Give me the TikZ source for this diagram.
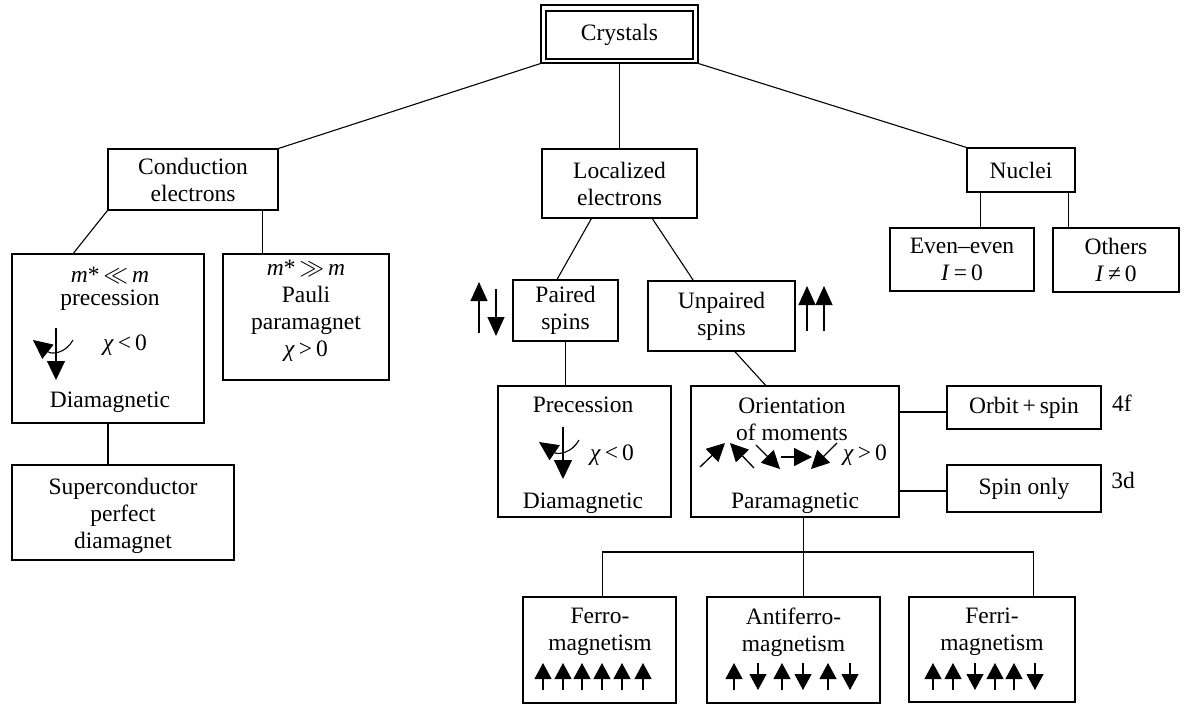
\documentclass[tikz,border=0pt]{standalone}
\usepackage{fontspec}
\setmainfont{Liberation Serif}
\usetikzlibrary{arrows.meta,calc}
\begin{document}
\begin{tikzpicture}[x=1pt,y=-1pt,
  font=\fontsize{23.5}{27}\selectfont,
  box/.style={draw,line width=1.1pt,inner sep=0pt,align=center},
  txt/.style={inner sep=0pt,align=center},
  link/.style={line width=1.1pt},
  spinarrow/.style={line width=1.1pt,-{Triangle[length=16pt,width=17pt]}},
  bigarrow/.style={line width=1.1pt,-{Triangle[length=19pt,width=17pt]}},
  tilt/.style={line width=1.3pt,-{Triangle[length=18pt,width=18pt]}},
  glyph/.style={line width=1.1pt,-{Triangle[length=19pt,width=18pt]}},
]
\useasboundingbox (0,0) rectangle (1188,705);
% boxes
\node[box,minimum width=157pt,minimum height=58pt] (crys) at (619.5,34) {};
\node[box,minimum width=147pt,minimum height=48pt] (crysin) at (619.5,35) {Crystals};
\node[box,minimum width=170pt,minimum height=61pt] (cond) at (193,179.5) {Conduction\\electrons};
\node[box,minimum width=155pt,minimum height=69pt] (loc) at (619.5,183.5) {Localized\\electrons};
\node[box,minimum width=108pt,minimum height=44pt] (nuc) at (1021,170) {Nuclei};
\node[box,minimum width=144pt,minimum height=63pt] (even) at (962,259.5) {Even–even\\\textit{I}\,=\,0};
\node[box,minimum width=126pt,minimum height=64pt] (others) at (1116,260) {Others\\\textit{I}\,≠\,0};
\node[box,minimum width=192pt,minimum height=169pt] (mstar) at (108,338.5) {};
\node[box,minimum width=166pt,minimum height=126pt] (pauli) at (306,317) {};
\node[box,minimum width=222pt,minimum height=95pt] (super) at (123,512.5) {};
\node[box,minimum width=105pt,minimum height=61pt] (paired) at (565.5,310.5) {Paired\\spins};
\node[box,minimum width=147pt,minimum height=70pt] (unpaired) at (721.5,316) {Unpaired\\spins};
\node[box,minimum width=173pt,minimum height=131pt] (prec) at (584.5,451.5) {};
\node[box,minimum width=208pt,minimum height=131pt] (orient) at (795,451.5) {};
\node[box,minimum width=154pt,minimum height=43pt] (orbit) at (1024,407.5) {Orbit\,+\,spin};
\node[box,minimum width=154pt,minimum height=47pt] (spinonly) at (1024,488.5) {Spin only};
\node[box,minimum width=153pt,minimum height=106pt] (ferro) at (599.5,650) {};
\node[box,minimum width=173pt,minimum height=106pt] (anti) at (793.5,650) {};
\node[box,minimum width=166pt,minimum height=105pt] (ferri) at (992,649.5) {};
% texts
\node[txt] (t1) at (110,275) {\textit{m}*\,$\ll$\,\textit{m}};
\node[txt] (t2) at (110,300) {precession};
\node[txt] (t3) at (125,345) {\textit{χ}\,<\,0};
\node[txt] (t4) at (110,402) {Diamagnetic};
\node[txt] (t5) at (306,311) {\textit{m}*\,$\gg$\,\textit{m}\\Pauli\\paramagnet\\\textit{χ}\,>\,0};
\node[txt] (t6) at (123,515.5) {Superconductor\\perfect\\diamagnet};
\node[txt] (t7) at (583,405) {Precession};
\node[txt] (t8) at (612,455) {\textit{χ}\,<\,0};
\node[txt] (t9) at (583,503) {Diamagnetic};
\node[txt] (t10) at (792,419) {Orientation\\of moments};
\node[txt] (t11) at (865,455) {\textit{χ}\,>\,0};
\node[txt] (t12) at (795,503) {Paramagnetic};
\node[txt] (t13) at (1122,403) {4f};
\node[txt] (t14) at (1123,480) {3d};
\node[txt] (t15) at (600,632) {Ferro-\\magnetism};
\node[txt] (t16) at (793.5,632) {Antiferro-\\magnetism};
\node[txt] (t17) at (992,632) {Ferri-\\magnetism};
% connectors
\draw[link] (crys.south west) -- (cond.north east);
\draw[link] (crys.south) -- (loc.north);
\draw[link] (crys.south east) -- (nuc.north west);
\draw[link] (cond.south west) -- ($(mstar.north west)!0.32!(mstar.north east)$);
\coordinate (c2) at ($(cond.south west)!0.906!(cond.south east)$);
\draw[link] (c2) -- (c2 |- pauli.north);
\draw[link] (mstar.south) -- (mstar.south |- super.north);
\draw[link] ($(loc.south west)!0.32!(loc.south east)$) -- ($(paired.north west)!0.42!(paired.north east)$);
\draw[link] ($(loc.south west)!0.71!(loc.south east)$) -- ($(unpaired.north west)!0.31!(unpaired.north east)$);
\draw[link] (paired.south) -- (paired.south |- prec.north);
\draw[link] ($(unpaired.south west)!0.59!(unpaired.south east)$) -- ($(orient.north west)!0.36!(orient.north east)$);
\coordinate (n1) at ($(nuc.south west)!0.13!(nuc.south east)$);
\coordinate (n2) at ($(nuc.south west)!0.935!(nuc.south east)$);
\draw[link] (n1) -- (n1 |- even.north);
\draw[link] (n2) -- (n2 |- others.north);
\draw[link] (orient.east |- 0,412) -- (orbit.west |- 0,412);
\draw[link] (orient.east |- 0,491) -- (spinonly.west |- 0,491);
\coordinate (o1) at ($(orient.south west)!0.54!(orient.south east)$);
\coordinate (bus) at (803,552);
\coordinate (f1) at ($(ferro.north west)!0.52!(ferro.north east)$);
\coordinate (f3) at ($(ferri.north west)!0.747!(ferri.north east)$);
\draw[link] (o1) -- (o1 |- anti.north);
\draw[link] (f1) |- (bus) -| (f3);
% precession glyphs
\draw[glyph] (56,328) -- (56,380);
\draw[glyph] (73,340) .. controls (66,353) and (52,355) .. (33,340);
\draw[glyph] (563,427) -- (563,479);
\draw[glyph] (579,440) .. controls (572,453) and (558,455) .. (539,442);
% orientation arrows
\draw[tilt] (700,467) -- (725,443);
\draw[tilt] (754,468) -- (730,443);
\draw[tilt] (756,445) -- (780,469);
\draw[tilt] (781,457) -- (812,457);
\draw[tilt] (837,443) -- (811,469);
% paired / unpaired spins
\draw[bigarrow] (479,333) -- (479,282);
\draw[bigarrow] (496,289) -- (496,336);
\draw[bigarrow] (807,331) -- (807,286);
\draw[bigarrow] (824,331) -- (824,286);
% ordered spins
\foreach \x in {543,563,582,602,622,643,734,782,828,933,953,995,1014}
  \draw[spinarrow] (\x,690) -- (\x,663);
\foreach \x in {758,803,850,975,1035}
  \draw[spinarrow] (\x,663) -- (\x,690);
\end{tikzpicture}
\end{document}
